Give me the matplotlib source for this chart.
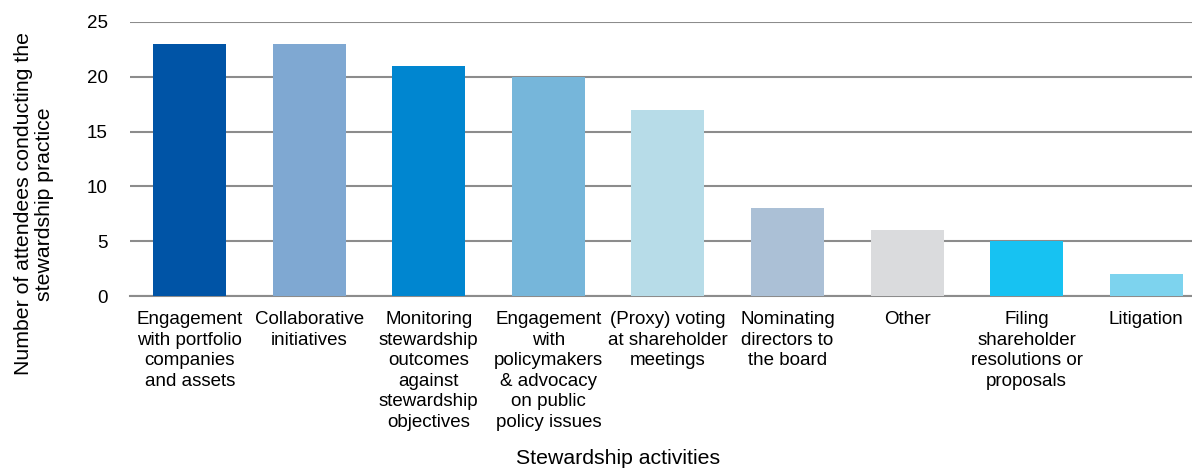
import matplotlib
matplotlib.use("Agg")
import matplotlib.pyplot as plt

plt.rcParams['font.family'] = ['Liberation Sans', 'DejaVu Sans']

# -----------------------------
# Data
# -----------------------------
activities = [
    "Engagement\nwith portfolio\ncompanies\nand assets",
    "Collaborative\ninitiatives",
    "Monitoring\nstewardship\noutcomes\nagainst\nstewardship\nobjectives",
    "Engagement\nwith\npolicymakers\n& advocacy\non public\npolicy issues",
    "(Proxy) voting\nat shareholder\nmeetings",
    "Nominating\ndirectors to\nthe board",
    "Other",
    "Filing\nshareholder\nresolutions or\nproposals",
    "Litigation",
]
attendees = [23, 23, 21, 20, 17, 8, 6, 5, 2]
colors = ["#0054A6", "#7FA8D2", "#0086D0", "#76B6DA", "#B7DCE8",
          "#ABC0D6", "#DADBDD", "#17C2F2", "#7DD3EE"]

# -----------------------------
# Plot
# -----------------------------
fig = plt.figure(figsize=(11.92, 4.68), dpi=100)
ax = fig.add_axes([0.109, 0.3675, 0.9027, 0.5855])

x = range(len(activities))
ax.bar(x, attendees, width=0.61, color=colors, zorder=3)

ax.set_ylim(0, 25)
ax.set_xlim(-0.5, len(activities) - 0.5)
ax.set_yticks([0, 5, 10, 15, 20, 25])
ax.yaxis.grid(True, color="#8C8C8C", linewidth=1.5, zorder=0)
ax.set_axisbelow(True)

for s in ["top", "right", "left"]:
    ax.spines[s].set_visible(False)
ax.spines["bottom"].set_color("#8C8C8C")
ax.spines["bottom"].set_linewidth(1.5)

fs = 13.5
ax.tick_params(axis="both", length=0, labelsize=fs, colors="#000000")
ax.tick_params(axis="y", pad=16)
ax.tick_params(axis="x", pad=11)
ax.set_xticks(list(x))
ax.set_xticklabels(activities, linespacing=1.27, va="top")

ax.set_ylabel("Number of attendees conducting the\nstewardship practice", fontsize=15.3,
              linespacing=1.1)
ax.yaxis.set_label_coords(-0.071, 0.336)
ax.set_xlabel("Stewardship activities", fontsize=15.3)
ax.xaxis.set_label_coords(0.4535, -0.56)

fig.savefig("out.png", dpi=100)
